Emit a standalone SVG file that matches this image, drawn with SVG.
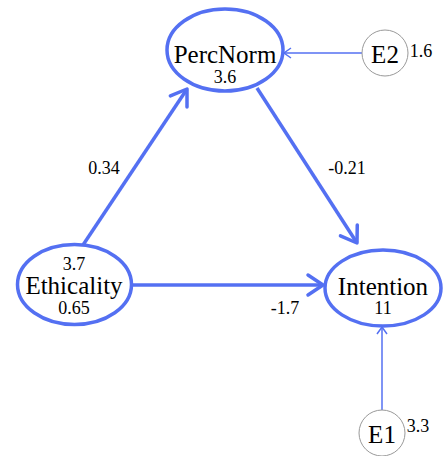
<svg xmlns="http://www.w3.org/2000/svg" width="446" height="456" viewBox="0 0 446 456">
<style>
.lat{fill:#fff;stroke:#5470f2;stroke-width:3.5}
.err{fill:#fff;stroke:#999;stroke-width:1}
.t{font-family:"Liberation Serif",serif;fill:#000;text-anchor:middle}
.big{font-size:25px}
.sm{font-size:18px}
.thick{stroke:#5470f2;stroke-width:3.5;fill:none}
.thin{stroke:#5470f2;stroke-width:1.5;fill:none}
</style>
<defs>
<marker id="ah" markerUnits="userSpaceOnUse" viewBox="-20 -14 24 28" refX="0" refY="0" markerWidth="24" markerHeight="28" orient="auto">
<path d="M-15,-10 L0,0 L-15,10" fill="none" stroke="#5470f2" stroke-width="3.5" stroke-linecap="round" stroke-linejoin="round"/>
</marker>
<marker id="as" markerUnits="userSpaceOnUse" viewBox="-10 -7 12 14" refX="0" refY="0" markerWidth="12" markerHeight="14" orient="auto">
<path d="M-7,-5 L0,0 L-7,5" fill="none" stroke="#5470f2" stroke-width="1.5"/>
</marker>
</defs>
<g id="connectors">
<line class="thick" x1="83" y1="245" x2="187" y2="89" marker-end="url(#ah)"/>
<line class="thick" x1="257" y1="88" x2="357" y2="243" marker-end="url(#ah)"/>
<line class="thick" x1="132" y1="285" x2="323" y2="285" marker-end="url(#ah)"/>
<line class="thin" x1="362" y1="53" x2="284" y2="53" marker-end="url(#as)"/>
<line class="thin" x1="382" y1="410" x2="382" y2="327" marker-end="url(#as)"/>
<text class="t sm" x="104" y="174">0.34</text>
<text class="t sm" x="347" y="174">-0.21</text>
<text class="t sm" x="285" y="314">-1.7</text>
</g>
<g id="PercNorm">
<ellipse class="lat" cx="225" cy="50" rx="58" ry="41"/>
<text class="t big" x="225" y="63">PercNorm</text>
<text class="t sm" x="225" y="83">3.6</text>
</g>
<g id="Ethicality">
<ellipse class="lat" cx="74.5" cy="284.5" rx="57" ry="40"/>
<text class="t sm" x="74" y="270">3.7</text>
<text class="t big" x="74" y="294">Ethicality</text>
<text class="t sm" x="74" y="314">0.65</text>
</g>
<g id="Intention">
<ellipse class="lat" cx="383" cy="288" rx="58" ry="38"/>
<text class="t big" x="383" y="295">Intention</text>
<text class="t sm" x="383" y="314">11</text>
</g>
<g id="E2">
<circle class="err" cx="385" cy="53" r="23"/>
<text class="t big" x="385" y="63">E2</text>
<text class="t sm" x="421" y="57">1.6</text>
</g>
<g id="E1">
<circle class="err" cx="382" cy="433" r="23"/>
<text class="t big" x="382" y="443">E1</text>
<text class="t sm" x="418" y="432">3.3</text>
</g>
</svg>
